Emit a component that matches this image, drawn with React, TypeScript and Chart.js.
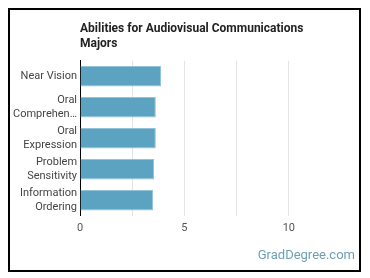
import React, { useEffect, useRef } from "react";
import { Chart, registerables } from "chart.js";

Chart.register(...registerables);

const categories = ["Near Vision", "Oral Comprehension", "Oral Expression", "Problem Sensitivity", "Information Ordering"];
const tickLabels = [["Near Vision"], ["Oral", "Comprehen…"], ["Oral", "Expression"], ["Problem", "Sensitivity"], ["Information", "Ordering"]];
const values = [3.88, 3.63, 3.63, 3.55, 3.5];
const titleLines = ["Abilities for Audiovisual Communications", "Majors"];
const xMax = 12.5;
const xStep = 2.5;

export default function App() {
  const ref = useRef<HTMLCanvasElement | null>(null);
  useEffect(() => {
    if (!ref.current) return;
    const chart = new Chart(ref.current, {
      type: "bar",
      data: {
        labels: categories,
        datasets: [
          {
            data: values,
            backgroundColor: "#5ba3c0",
            borderColor: "#93c3d7",
            borderWidth: 1,
            barPercentage: 0.72,
            categoryPercentage: 0.92,
          },
        ],
      },
      options: {
        indexAxis: "y",
        responsive: false,
        animation: false,
        layout: { padding: { left: 0, right: 18, top: 0, bottom: 29 } },
        plugins: {
          legend: { display: false },
          tooltip: { enabled: false },
          title: {
            display: true,
            text: titleLines,
            align: "start",
            fullSize: false,
            color: "#222",
            font: { family: "Roboto", size: 12, weight: "bold" },
            lineHeight: 1.25,
            padding: { top: 12, bottom: 10 },
          } as any,
        },
        scales: {
          x: {
            min: 0,
            max: xMax,
            ticks: {
              stepSize: xStep,
              color: "#555",
              font: { family: "Roboto", size: 11 },
              padding: 6,
              callback: (v: any) => (Number(v) % 5 === 0 ? String(v) : ""),
            },
            grid: {
              drawTicks: false,
              color: (ctx: any) => (ctx.tick && ctx.tick.value === xMax ? "rgba(0,0,0,0)" : "#e4e4e4"),
            },
            border: { display: false },
          },
          y: {
            ticks: {
              autoSkip: false,
              color: "#444",
              font: { family: "Roboto", size: 11, lineHeight: 1.3 },
              padding: 3,
              callback: (_v: any, i: number) => tickLabels[i],
            },
            grid: { display: false, drawTicks: false },
            border: { display: true, color: "#000", width: 1 },
          },
        },
      },
    });
    return () => chart.destroy();
  }, []);

  return (
    <div
      style={{
        position: "relative",
        width: 353,
        height: 264,
        border: "2px solid #000",
        boxSizing: "border-box",
        background: "#fff",
      }}
    >
      <canvas ref={ref} width={349} height={260} style={{ position: "absolute", left: 0, top: 0 }} />
      <div
        style={{
          position: "absolute",
          right: 4,
          bottom: 8,
          fontFamily: "Roboto",
          fontSize: 13,
          color: "#6c9fb6",
        }}
      >
        GradDegree.com
      </div>
    </div>
  );
}
